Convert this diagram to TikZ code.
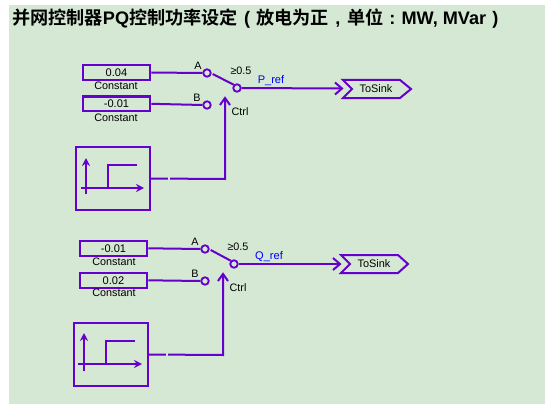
\documentclass[tikz,border=0pt]{standalone}
\usepackage{fontspec}
\setmainfont{Liberation Sans}
\newfontfamily\cjk{Noto Sans CJK SC}[BoldFont=* Bold]
\usetikzlibrary{calc,arrows.meta}
\definecolor{wire}{RGB}{102,0,204}
\definecolor{bg}{RGB}{213,232,212}
\definecolor{lbl}{RGB}{0,0,255}
\newcommand{\fullcell}[1]{\makebox[13.7pt][c]{\rmfamily #1}}
\tikzset{
  x=0.75pt,y=-0.75pt,
  wireline/.style={draw=wire,line width=1.5pt},
  thinline/.style={draw=wire,line width=1.2pt},
  tip/.style={draw=wire,line width=1.5pt,fill=none},
  constbox/.style={draw=wire,line width=1.6pt,fill=none,minimum width=50.6pt,minimum height=10.9pt,inner sep=0pt,font=\fontsize{8.3}{9}\selectfont,text=black},
  tag/.style={inner sep=0pt,font=\fontsize{8.1}{9}\selectfont,text=black},
  sigtag/.style={inner sep=0pt,font=\fontsize{8.3}{9}\selectfont,text=lbl},
  port/.style={circle,draw=wire,line width=1.4pt,fill=none,minimum size=5.6pt,inner sep=0pt},
  sinkbox/.style={inner sep=0pt,font=\fontsize{8.2}{9}\selectfont,text=black},
  stepbox/.style={draw=wire,line width=1.5pt,fill=none,inner sep=0pt,minimum width=55.5pt,minimum height=47pt},
  stepaxis/.style={thinline,-{Stealth[length=6pt,width=6pt]}},
}
\newcommand{\chevron}[2]{\draw[tip] ($(#1)+(-7,-#2)$) -- (#1) -- ($(#1)+(-7,#2)$);}
\begin{document}
\begin{tikzpicture}
\useasboundingbox (0,0) rectangle (553,410);
\fill[white] (0,0) rectangle (553,410);
\fill[bg] (9,5) rectangle (545,404);
\node[anchor=west,inner sep=0pt,font=\fontsize{13.6}{15}\selectfont\bfseries] (title) at (12,19)
  {\cjk 并网控制器\rmfamily PQ\cjk 控制功率设定\fullcell{(}放电为正\fullcell{,}单位\fullcell{:}\rmfamily MW, MVar\fullcell{)}};

% upper group
\node[constbox] (c1) at (116.5,72.5) {0.04};
\node[tag] (c1t) at (116,86) {Constant};
\node[constbox] (c2) at (116.5,103.8) {-0.01};
\node[tag] (c2t) at (116,118) {Constant};
\node[port] (a1) at (207,73) {};
\node[port] (b1) at (207,105) {};
\node[port] (o1) at (237,88) {};
\node[tag] at (198,66) {A};
\node[tag] at (197,98) {B};
\node[tag] at (241,71) {≥0.5};
\node[tag] at (240,112) {Ctrl};
\node[sigtag] at (271,81) {P\_ref};
\node[stepbox] (s1) at (113,178.5) {};
\coordinate (s1c) at (225,179);
\coordinate (s1t) at (225,98);
\coordinate (o1t) at (342,88.5);
\draw[wireline] (c1.east) -- (a1.west);
\draw[wireline] (c2.east) -- (b1.west);
\draw[wireline] (a1.east)++(1,1) -- (o1.north west);
\draw[wireline] (o1.east) -- (o1t);
\chevron{o1t}{6}
\draw[wireline] (s1.east) -- (s1c) -- (s1t);
\draw[tip] (220,105) -- (s1t) -- (230,105);
\draw[draw=bg,line width=0.8pt] (169,176) -- (169,182);
\draw[stepaxis] (86,194) -- (86,158);
\draw[stepaxis] (81,188) -- (144,188);
\draw[thinline] (108,188) -- (108,165) -- (137,165);
\draw[wireline] (343,80) -- (400,80) -- (411,89) -- (400,98) -- (343,98) -- (352,89) -- cycle;
\node[sinkbox] (k1) at (376,89) {ToSink};

% lower group
\node[constbox] (c3) at (113.5,248.3) {-0.01};
\node[tag] (c3t) at (114,262) {Constant};
\node[constbox] (c4) at (113.5,280.3) {0.02};
\node[tag] (c4t) at (114,293) {Constant};
\node[port] (a2) at (205,249) {};
\node[port] (b2) at (205,281) {};
\node[port] (o2) at (234,264) {};
\node[tag] at (195,242) {A};
\node[tag] at (195,274) {B};
\node[tag] at (238,247) {≥0.5};
\node[tag] at (238,288) {Ctrl};
\node[sigtag] at (269,257) {Q\_ref};
\node[stepbox] (s2) at (110.5,354.5) {};
\coordinate (s2c) at (223,355);
\coordinate (s2t) at (223,274);
\coordinate (o2t) at (340,264);
\draw[wireline] (c3.east) -- (a2.west);
\draw[wireline] (c4.east) -- (b2.west);
\draw[wireline] (a2.east)++(1,1) -- (o2.north west);
\draw[wireline] (o2.east) -- (o2t);
\chevron{o2t}{6}
\draw[wireline] (s2.east) -- (s2c) -- (s2t);
\draw[tip] (218,281) -- (s2t) -- (228,281);
\draw[draw=bg,line width=0.8pt] (167,352) -- (167,358);
\draw[stepaxis] (84,371) -- (84,333);
\draw[stepaxis] (78,364) -- (142,364);
\draw[thinline] (106,364) -- (106,341) -- (135,341);
\draw[wireline] (341,255) -- (398,255) -- (408,264) -- (398,273) -- (341,273) -- (350,264) -- cycle;
\node[sinkbox] (k2) at (374,264) {ToSink};
\end{tikzpicture}
\end{document}
